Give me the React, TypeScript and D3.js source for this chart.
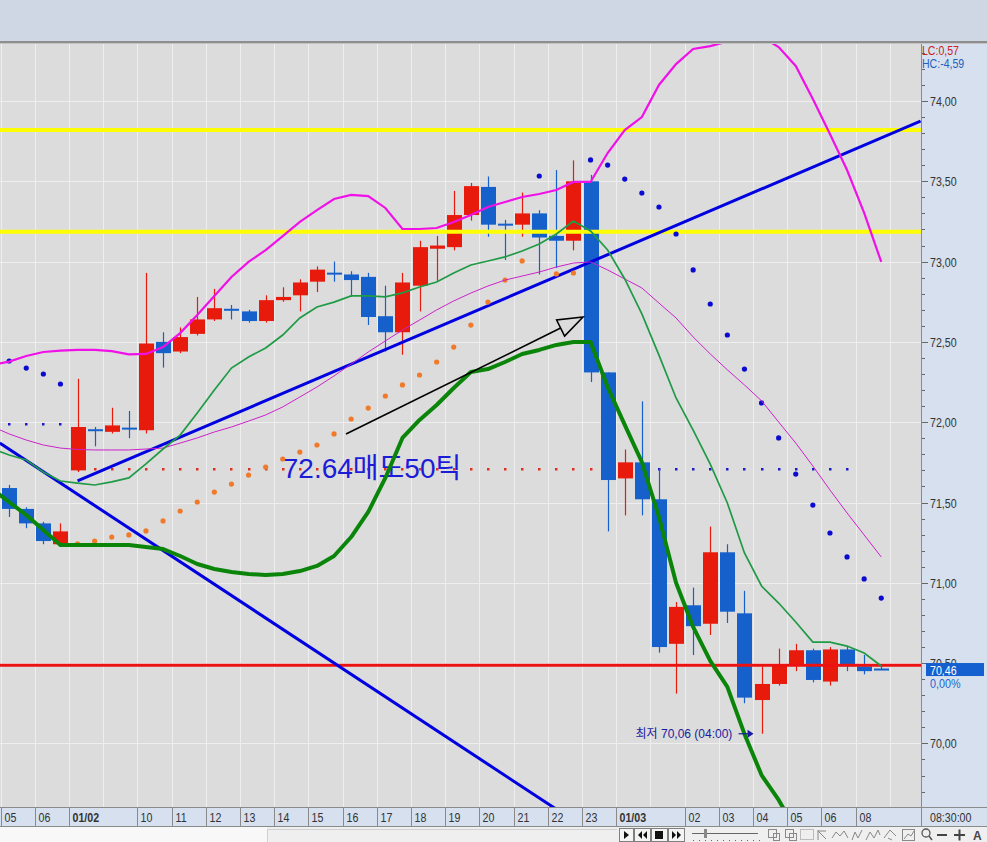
import React from "react";
import * as d3 from "d3";

// ---------------- data ----------------
// x-axis labels, one entry per candle ("" = no label)
const timeLabels = [
  "05", "", "06", "", "01/02", "", "", "", "10", "", "11", "", "12", "", "13", "", "14", "", "15", "", "16", "",
  "17", "", "18", "", "19", "", "20", "", "21", "", "22", "", "23", "", "01/03", "", "", "", "02", "", "03", "",
  "04", "", "05", "", "06", "", "08", "",
];
const boldLabels = ["01/02", "01/03"];

const opens = [
  71.59, 71.46, 71.37, 71.24, 71.70, 71.955, 71.94, 71.965, 71.95, 72.50, 72.44, 72.55, 72.64, 72.705, 72.69, 72.63,
  72.76, 72.79, 72.875, 72.93, 72.92, 72.905, 72.66, 72.56, 72.85, 73.08, 73.09, 73.29, 73.465, 73.235, 73.23, 73.30,
  73.16, 73.13, 73.50, 72.31, 71.65, 71.75, 71.52, 70.62, 70.86, 70.745, 71.19, 70.81, 70.27, 70.37, 70.49, 70.58,
  70.385, 70.585, 70.48, 70.46,
];
const highs = [
  71.61, 71.47, 71.38, 71.37, 72.27, 71.97, 72.09, 72.07, 72.93, 72.56, 72.59, 72.78, 72.83, 72.73, 72.70, 72.79,
  72.84, 72.89, 72.97, 73.00, 72.94, 72.93, 72.85, 72.93, 73.13, 73.16, 73.44, 73.49, 73.53, 73.26, 73.43, 73.32,
  73.57, 73.63, 73.54, 72.31, 71.83, 72.13, 71.71, 70.88, 70.97, 71.35, 71.24, 70.95, 70.48, 70.59, 70.62, 70.59,
  70.60, 70.60, 70.55, 70.48,
];
const lows = [
  71.41, 71.34, 71.24, 71.23, 71.69, 71.85, 71.93, 71.90, 71.93, 72.34, 72.43, 72.54, 72.63, 72.64, 72.62, 72.62,
  72.75, 72.69, 72.81, 72.875, 72.78, 72.605, 72.44, 72.42, 72.69, 72.88, 73.07, 73.255, 73.155, 73.01, 73.155, 72.92,
  72.96, 73.07, 72.25, 71.32, 71.42, 71.42, 70.565, 70.31, 70.55, 70.675, 70.75, 70.25, 70.06, 70.36, 70.45, 70.38,
  70.36, 70.45, 70.43, 70.458,
];
const closes = [
  71.46, 71.37, 71.26, 71.32, 71.97, 71.945, 71.98, 71.955, 72.49, 72.43, 72.53, 72.64, 72.71, 72.695, 72.63, 72.76,
  72.78, 72.87, 72.95, 72.92, 72.885, 72.655, 72.56, 72.87, 73.09, 73.10, 73.29, 73.47, 73.23, 73.225, 73.30, 73.15,
  73.13, 73.50, 72.31, 71.64, 71.75, 71.52, 70.60, 70.85, 70.73, 71.19, 70.82, 70.285, 70.37, 70.49, 70.58, 70.395,
  70.585, 70.48, 70.45, 70.46,
];

// indicator lines: first value belongs to the (off-screen) candle before the first one
const bandUpper = [
  72.358, 72.377, 72.412, 72.437, 72.446, 72.45, 72.45, 72.443, 72.422, 72.425, 72.468, 72.555, 72.667, 72.786, 72.904,
  72.998, 73.072, 73.159, 73.247, 73.321, 73.39, 73.415, 73.408, 73.334, 73.203, 73.203, 73.209, 73.247, 73.29, 73.34,
  73.371, 73.402, 73.421, 73.446, 73.496, 73.496, 73.676, 73.819, 73.9, 74.1, 74.23, 74.324, 74.342, 74.37, 74.45,
  74.4, 74.336, 74.218, 74.012, 73.795, 73.57, 73.303, 72.998,
];
const bandMiddle = [
  71.973, 71.927, 71.889, 71.858, 71.839, 71.83, 71.827, 71.827, 71.827, 71.833, 71.839, 71.87, 71.902, 71.939, 71.97,
  72.007, 72.045, 72.095, 72.157, 72.219, 72.288, 72.362, 72.437, 72.506, 72.574, 72.636, 72.699, 72.755, 72.804,
  72.848, 72.885, 72.91, 72.935, 72.966, 72.991, 72.998, 72.948, 72.892, 72.836, 72.742, 72.649, 72.531, 72.425,
  72.326, 72.232, 72.133, 72.001, 71.87, 71.727, 71.578, 71.435, 71.298, 71.161,
];
const fastAvg = [
  71.835, 71.796, 71.765, 71.69, 71.634, 71.621, 71.609, 71.628, 71.653, 71.74, 71.833, 71.92, 72.057, 72.2, 72.337,
  72.406, 72.462, 72.543, 72.649, 72.717, 72.748, 72.786, 72.786, 72.78, 72.805, 72.842, 72.873, 72.929, 72.979,
  73.004, 73.029, 73.066, 73.11, 73.172, 73.253, 73.191, 73.072, 72.892, 72.674, 72.418, 72.151, 71.951, 71.739,
  71.497, 71.186, 70.98, 70.874, 70.756, 70.631, 70.631, 70.606, 70.563, 70.482,
];
const slowLine = [
  71.584, 71.503, 71.422, 71.329, 71.235, 71.235, 71.235, 71.235, 71.235, 71.223, 71.21, 71.167, 71.117, 71.086,
  71.067, 71.055, 71.049, 71.055, 71.073, 71.105, 71.167, 71.285, 71.441, 71.653, 71.902, 72.014, 72.107, 72.213,
  72.313, 72.331, 72.375, 72.425, 72.45, 72.481, 72.499, 72.499, 72.219, 71.983, 71.752, 71.41, 71.0, 70.725, 70.514,
  70.352, 70.059, 69.803, 69.648, 69.461, null, null, null, null, null,
];

// parabolic SAR dots, U = below price (orange), D = above price (blue)
const sarValues = [
  72.381, 72.337, 72.3, 72.238, 71.242, 71.26, 71.285, 71.298, 71.323, 71.385, 71.447, 71.503, 71.565, 71.615, 71.671,
  71.721, 71.771, 71.814, 71.858, 71.927, 72.02, 72.088, 72.163, 72.232, 72.294, 72.375, 72.468, 72.605, 72.748,
  72.885, 73.004, 73.533, 72.923, 72.929, 73.633, 73.601, 73.514, 73.427, 73.34, 73.172, 72.948, 72.736, 72.543,
  72.331, 72.12, 71.902, 71.677, 71.484, 71.31, 71.161, 71.024, 70.905,
];
const sarSide = "DDDDUUUUUUUUUUUUUUUUUUUUUUUUUUUDUUDDDDDDDDDDDDDDDDDD";

// small stop-line dots, R = red, B = blue
const stopLevels = [
  71.99, 71.99, 71.99, 71.99, 71.71, 71.71, 71.71, 71.71, 71.71, 71.71, 71.71, 71.71, 71.71, 71.71, 71.71, 71.71,
  71.71, 71.71, 71.71, 71.71, 71.71, 71.71, 71.71, 71.71, 71.71, 71.71, 71.71, 71.71, 71.71, 71.71, 71.71, 71.71,
  71.71, 71.71, 71.71, 71.71, 71.71, 71.71, 71.71, 71.71, 71.71, 71.71, 71.71, 71.71, 71.71, 71.71, 71.71, 71.71,
  71.71, 71.71, null, null,
];
const stopColors = "BBBBRRRRRRRRRRRRRRRRRRRRRRRRRRRRRRRBBBBBBBBBBBBBBB--";

// drawn objects (candle index, price)
const trendUp = [{ i: 4, v: 71.634 }, { i: 53.3, v: 73.875 }];
const trendDown = [{ i: -0.55, v: 71.87 }, { i: 33, v: 69.52 }];
const yellowLevels = [73.82, 73.186];
const redLevel = 70.487;
const arrowFrom = { i: 19.7, v: 71.926 };
const arrowTo = { i: 33.56, v: 72.655 };
const orderText = "72.64매도50틱";
const orderTextAt = { i: 16.0, v: 71.655 };
const lowTime = "04:00";

const yTicks = [70.0, 70.5, 71.0, 71.5, 72.0, 72.5, 73.0, 73.5, 74.0];
const lcText = "LC:0,57";
const hcText = "HC:-4,59";
const lastChange = "0,00%";
const axisTime = "08:30:00";

// ---------------- drawing ----------------
const FONT = "'Liberation Sans', Arial, sans-serif";
const KFONT = "'Liberation Sans', 'Noto Sans CJK KR', sans-serif";
const RED = "#e81a0c";
const BLUE = "#1660cc";

const fmt = (v: number) => d3.format(".2f")(v).replace(".", ",");

function NText(props: any) {
  const { x, y, children, sx = 0.82, size = 13, ...rest } = props;
  return (
    <text transform={`translate(${x},${y}) scale(${sx},1)`} fontFamily={FONT} fontSize={size} {...rest}>
      {children}
    </text>
  );
}

export default function App() {
  const W = 987;
  const H = 842;
  const plotR = 921;
  const plotT = 44;
  const plotB = 807;

  const x = d3.scaleLinear().domain([-0.5, 53.3]).range([0.6, 0.6 + 17.1 * 53.8]);
  const y = d3.scaleLinear().domain([70, 74]).range([743.4, 101]);

  const lineOf = (arr: (number | null)[], offset: number) =>
    d3
      .line<number | null>()
      .defined((d) => d != null)
      .x((_, k) => x(k - offset))
      .y((d) => y(d as number))(arr) || "";

  const ptLine = d3
    .line<{ i: number; v: number }>()
    .x((d) => x(d.i))
    .y((d) => y(d.v));

  const yMin = y.invert(plotB);
  const yMax = y.invert(plotT);
  const minorTicks = d3.range(Math.ceil(yMin * 10), Math.floor(yMax * 10) + 1).map((d) => d / 10);
  const gridX = d3.range(0, 54, 2).map((i) => Math.round(x(i - 0.5)) + 0.5);

  // arrow head
  const ax1 = x(arrowFrom.i), ay1 = y(arrowFrom.v), ax2 = x(arrowTo.i), ay2 = y(arrowTo.v);
  const len = Math.hypot(ax2 - ax1, ay2 - ay1);
  const ux = (ax2 - ax1) / len, uy = (ay2 - ay1) / len;
  const bx = ax2 - 25 * ux, by = ay2 - 25 * uy;
  const head = [
    [ax2, ay2],
    [bx + 9 * -uy, by + 9 * ux],
    [bx - 9 * -uy, by - 9 * ux],
  ];

  const lowIdx = d3.minIndex(lows);
  const lowVal = lows[lowIdx];
  const lowY = y(lowVal);
  const lowTipX = x(lowIdx) - 8;

  const last = closes[closes.length - 1];
  const lastY = y(last);

  return (
    <svg
      width={W}
      height={H}
      style={{ position: "fixed", left: 0, top: 0, display: "block" }}
      xmlns="http://www.w3.org/2000/svg"
    >
      <defs>
        <clipPath id="plotClip">
          <rect x={0} y={plotT} width={plotR} height={plotB - plotT} />
        </clipPath>
      </defs>
      {/* backgrounds */}
      <rect x={0} y={0} width={W} height={41} fill="#cfd7e5" />
      <rect x={0} y={41} width={W} height={2} fill="#8e8e8e" />
      <rect x={0} y={43} width={W} height={1} fill="#c4c4c4" />
      <rect x={0} y={plotT} width={plotR} height={plotB - plotT} fill="#dcdcdc" />
      <rect x={plotR} y={plotT} width={W - plotR} height={plotB - plotT} fill="#d6e0ee" />

      {/* grid */}
      <g stroke="#eeeeee" strokeWidth={1}>
        {yTicks.map((v) => (
          <line key={v} x1={0} x2={plotR} y1={Math.round(y(v)) + 0.5} y2={Math.round(y(v)) + 0.5} />
        ))}
        {gridX.map((gx, k) => (
          <line key={k} x1={gx} x2={gx} y1={plotT} y2={plotB} />
        ))}
      </g>

      <g clipPath="url(#plotClip)">
        {/* stop-line dots */}
        {stopLevels.map((v, i) =>
          v == null ? null : (
            <rect
              key={i}
              x={Math.round(x(i)) - 1}
              y={Math.round(y(v)) - 1}
              width={2.5}
              height={2.5}
              fill={stopColors[i] === "R" ? "#e0301c" : "#1a1ac8"}
            />
          )
        )}

        {/* candles */}
        {opens.map((o, i) => {
          const c = closes[i];
          const col = c > o ? RED : BLUE;
          const cx = Math.round(x(i));
          const top = y(Math.max(o, c));
          const bot = y(Math.min(o, c));
          const h = Math.max(2, bot - top);
          return (
            <g key={i}>
              <line x1={cx + 0.5} x2={cx + 0.5} y1={y(highs[i])} y2={y(lows[i])} stroke={col} strokeWidth={1.2} />
              <rect x={cx - 7} y={bot - top < 2 ? (top + bot) / 2 - 1 : top} width={15} height={h} fill={col} />
            </g>
          );
        })}

        {/* horizontal levels */}
        {yellowLevels.map((v) => (
          <line key={v} x1={0} x2={plotR} y1={y(v)} y2={y(v)} stroke="#ffff00" strokeWidth={4} />
        ))}
        <line x1={0} x2={plotR} y1={y(redLevel)} y2={y(redLevel)} stroke="#ec1212" strokeWidth={3} />

        {/* trend lines */}
        <path d={ptLine(trendDown) || ""} stroke="#0000e0" strokeWidth={3} fill="none" />
        <path d={ptLine(trendUp) || ""} stroke="#0000e0" strokeWidth={3} fill="none" />

        {/* order text */}
        <text x={x(orderTextAt.i)} y={y(orderTextAt.v)} fontFamily={KFONT} fontSize={28} fill="#1c1cd8">
          {orderText}
        </text>

        {/* SAR */}
        {sarValues.map((v, i) => (
          <circle key={i} cx={x(i)} cy={y(v)} r={2.6} fill={sarSide[i] === "U" ? "#f07a2a" : "#0a0ad0"} />
        ))}

        {/* indicators */}
        <path d={lineOf(bandMiddle, 1)} stroke="#cc22cc" strokeWidth={1} fill="none" />
        <path d={lineOf(fastAvg, 1)} stroke="#1f9a45" strokeWidth={1.7} fill="none" />
        <path d={lineOf(bandUpper, 1)} stroke="#f010e8" strokeWidth={2.2} fill="none" />
        <path d={lineOf(slowLine, 1)} stroke="#0a850a" strokeWidth={4} fill="none" strokeLinejoin="round" />

        {/* arrow */}
        <line x1={ax1} y1={ay1} x2={bx} y2={by} stroke="#000" strokeWidth={1.6} />
        <polygon points={head.map((p) => p.join(",")).join(" ")} fill="none" stroke="#000" strokeWidth={1.6} />

        {/* lowest annotation */}
        <text x={lowTipX - 118} y={lowY + 4} fontFamily={KFONT} fontSize={12} fill="#1a1aa0">
          {`최저 ${fmt(lowVal)} (${lowTime})`}
        </text>
        <line x1={lowTipX - 15} x2={lowTipX - 5} y1={lowY} y2={lowY} stroke="#1a1aa0" strokeWidth={1.2} />
        <polygon points={`${lowTipX - 6},${lowY - 4} ${lowTipX},${lowY} ${lowTipX - 6},${lowY + 4}`} fill="#1a1aa0" />
      </g>

      {/* right axis */}
      <line x1={plotR + 0.5} x2={plotR + 0.5} y1={plotT} y2={827} stroke="#8a8a8a" />
      <g stroke="#666">
        {minorTicks.map((v) => (
          <line
            key={v}
            x1={plotR + 1}
            x2={plotR + (Math.abs(v * 2 - Math.round(v * 2)) < 1e-6 ? 7 : 4)}
            y1={Math.round(y(v)) + 0.5}
            y2={Math.round(y(v)) + 0.5}
          />
        ))}
      </g>
      {yTicks.map((v) => (
        <NText key={v} x={930} y={y(v) + 5} fill="#333">
          {fmt(v)}
        </NText>
      ))}
      <NText x={922} y={55} size={12} sx={0.88} fill="#cc2020">
        {lcText}
      </NText>
      <NText x={922} y={67.5} size={12} sx={0.88} fill="#1f5fc0">
        {hcText}
      </NText>
      <rect x={926} y={lastY - 6.5} width={58} height={13} fill="#1560d0" />
      <NText x={930} y={lastY + 5} fill="#ffffff">
        {fmt(last)}
      </NText>
      <NText x={930} y={lastY + 18.5} size={12} sx={0.9} fill="#2266cc">
        {lastChange}
      </NText>

      {/* x axis band */}
      <rect x={0} y={plotB} width={W} height={20} fill="#d6e0ee" />
      <line x1={0} x2={W} y1={plotB + 0.5} y2={plotB + 0.5} stroke="#8a8a8a" />
      <line x1={0} x2={W} y1={826.5} y2={826.5} stroke="#8a8a8a" />
      {timeLabels.map((t, i) => {
        if (!t) return null;
        const sx = Math.round(x(i - 0.5)) + 0.5;
        return (
          <g key={i}>
            <line x1={sx} x2={sx} y1={plotB} y2={826} stroke="#8a8a8a" />
            <NText x={sx + 3} y={821.5} fill="#333" fontWeight={boldLabels.includes(t) ? "bold" : "normal"}>
              {t}
            </NText>
          </g>
        );
      })}
      <line x1={plotR + 0.5} x2={plotR + 0.5} y1={plotB} y2={826} stroke="#8a8a8a" />
      <NText x={930} y={821.5} fill="#333">
        {axisTime}
      </NText>

      {/* bottom toolbar */}
      <rect x={0} y={827} width={267} height={15} fill="#f8f8f8" />
      <rect x={267} y={827} width={W - 267} height={15} fill="#efefef" />
      <line x1={267} x2={617} y1={829.5} y2={829.5} stroke="#d0d0d0" />
      <line x1={267.5} x2={267.5} y1={829} y2={842} stroke="#d0d0d0" />
      <g stroke="#808080" fill="#f4f4f4">
        <rect x={619.5} y={828.5} width={14} height={13} />
        <rect x={634.5} y={828.5} width={16} height={13} />
        <rect x={651.5} y={828.5} width={16} height={13} />
        <rect x={668.5} y={828.5} width={16} height={13} />
      </g>
      <g fill="#111">
        <polygon points="624,831 629,835 624,839" />
        <polygon points="642,831 638,835 642,839" />
        <polygon points="647,831 643,835 647,839" />
        <rect x={655} y={831} width={8} height={8} />
        <polygon points="672,831 676,835 672,839" />
        <polygon points="677,831 681,835 677,839" />
      </g>
      <line x1={692} x2={758} y1={833.5} y2={833.5} stroke="#666" />
      <rect x={704} y={829} width={3} height={9} fill="#888" />
      {d3.range(693, 760, 6).map((dx) => (
        <rect key={dx} x={dx} y={840} width={1} height={1} fill="#666" />
      ))}
      <g stroke="#888" fill="none">
        <rect x={768.5} y={829.5} width={8} height={8} />
        <rect x={773.5} y={833.5} width={6} height={7} />
        <rect x={785.5} y={829.5} width={8} height={8} />
        <rect x={789.5} y={833.5} width={7} height={7} />
        <rect x={800.5} y={829.5} width={13} height={10} strokeDasharray="1,1" />
        <path d="M818 830 L818 840 M818 831 L826 831 M818 831 L826 839" />
        <path d="M832 838 L836 832 L840 836 L844 831 L848 838" />
        <path d="M852 840 L855 832 L858 838 L862 830" />
        <path d="M866 840 L870 832 L874 838 L878 830 L880 835" />
        <path d="M884 838 L890 830 L896 836 M888 838 L892 840" />
        <rect x={902.5} y={829.5} width={12} height={11} />
        <path d="M904 839 L908 834 L911 836 L914 831" />
      </g>
      <circle cx={926} cy={833} r={4} stroke="#555" strokeWidth={1.3} fill="none" />
      <line x1={929} y1={836} x2={932} y2={840} stroke="#555" strokeWidth={1.5} />
      <rect x={937} y={834} width={10} height={2} fill="#444" />
      <rect x={954} y={834} width={11} height={2} fill="#444" />
      <rect x={958.5} y={829.5} width={2} height={11} fill="#444" />
      <text x={973} y={839.5} fontFamily={FONT} fontSize={12} fontWeight="bold" fill="#444">
        A
      </text>
    </svg>
  );
}
